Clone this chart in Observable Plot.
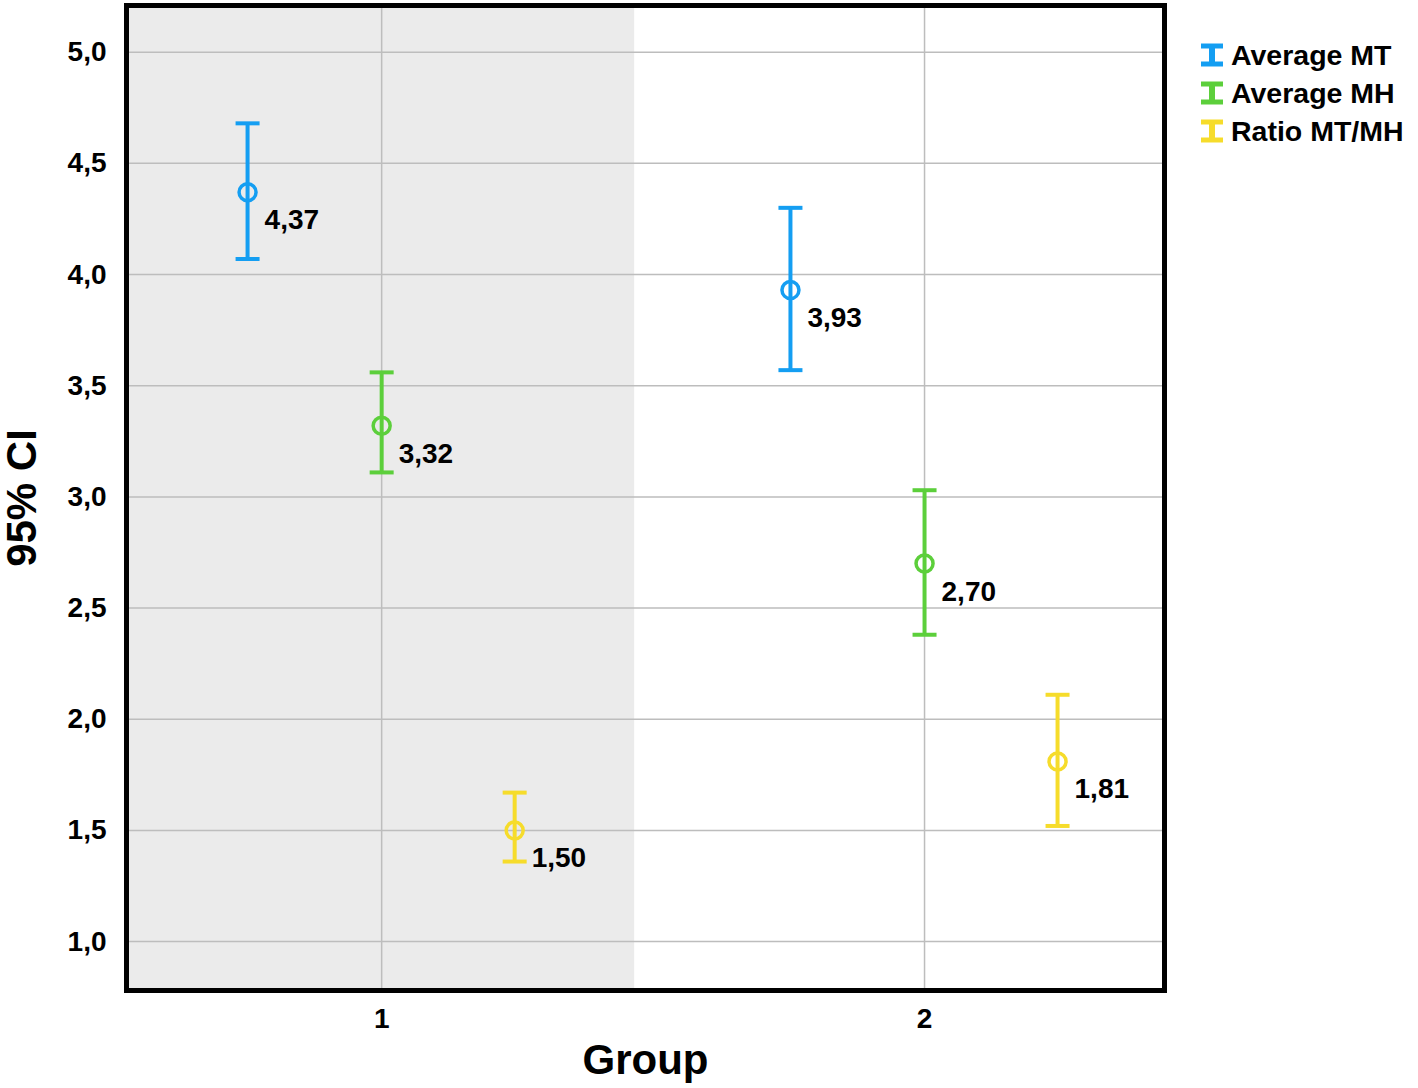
<!DOCTYPE html>
<html>
<head>
<meta charset="utf-8">
<script src="https://cdn.jsdelivr.net/npm/d3@7"></script>
<script src="https://cdn.jsdelivr.net/npm/@observablehq/plot@0.6"></script>
<style>
  html, body { margin: 0; padding: 0; background: #fff; }
  #wrap { position: relative; width: 1418px; height: 1088px; font-family: "Liberation Sans", Arial, Helvetica, sans-serif; font-weight: bold; }
  #legend { position: absolute; left: 1199px; top: 36px; }
  .item { display: flex; align-items: center; height: 38px; font-size: 28.5px; color: #000; white-space: nowrap; }
  .item svg { margin-right: 6px; }
</style>
</head>
<body>
<div id="wrap"><div id="legend"></div></div>
<script>
// ---- data ----
const groups = [1, 2];
const series = ["Average MT", "Average MH", "Ratio MT/MH"];
const meansG1 = [4.37, 3.32, 1.50];
const meansG2 = [3.93, 2.70, 1.81];
const lowerG1 = [4.07, 3.11, 1.36];
const lowerG2 = [3.57, 2.38, 1.52];
const upperG1 = [4.68, 3.56, 1.67];
const upperG2 = [4.30, 3.03, 2.11];
const yTicks = [1.0, 1.5, 2.0, 2.5, 3.0, 3.5, 4.0, 4.5, 5.0];
const colors = ["#149ef2", "#5ccf3b", "#f6dc2b"];

// ---- layout (not data) ----
const seriesOffset = [-0.247, 0, 0.245];
const xDomain = [0.530, 2.442];
const yDomain = [0.78, 5.21];
const shadeEnd = 1.466;

const means = [meansG1, meansG2], lows = [lowerG1, lowerG2], highs = [upperG1, upperG2];
const rows = [];
groups.forEach((g, gi) => series.forEach((s, si) => rows.push({
  group: g, series: s, x: g + seriesOffset[si],
  mean: means[gi][si], lo: lows[gi][si], hi: highs[gi][si]
})));

const fmt = (v, d) => v.toFixed(d).replace(".", ",");
const capSymbol = { draw(ctx) { ctx.moveTo(-12, 0); ctx.lineTo(12, 0); } };

const plot = Plot.plot({
  width: 1418,
  height: 1088,
  marginLeft: 126,
  marginRight: 254,
  marginTop: 5,
  marginBottom: 98,
  style: { fontFamily: '"Liberation Sans", Arial, Helvetica, sans-serif', fontWeight: "bold", color: "#000", background: "transparent", overflow: "visible" },
  x: { domain: xDomain },
  y: { domain: yDomain },
  color: { domain: series, range: colors },
  marks: [
    Plot.rect([0], { x1: xDomain[0], x2: shadeEnd, y1: yDomain[0], y2: yDomain[1], fill: "#ebebeb" }),
    Plot.ruleY(yTicks, { stroke: "#bdbdbd", strokeWidth: 1.5 }),
    Plot.ruleX(groups, { stroke: "#bdbdbd", strokeWidth: 1.5 }),
    Plot.ruleX(rows, { x: "x", y1: "lo", y2: "hi", stroke: "series", strokeWidth: 4 }),
    Plot.dot(rows, { x: "x", y: "lo", symbol: capSymbol, stroke: "series", strokeWidth: 4 }),
    Plot.dot(rows, { x: "x", y: "hi", symbol: capSymbol, stroke: "series", strokeWidth: 4 }),
    Plot.dot(rows, { x: "x", y: "mean", r: 8.5, stroke: "series", strokeWidth: 3.5, fill: "none" }),
    Plot.text(rows, { x: "x", y: "mean", text: d => fmt(d.mean, 2), textAnchor: "start", dx: 17, dy: 28, fontSize: 28, fontWeight: "bold", fill: "#000" }),
    Plot.axisY({ ticks: yTicks, tickFormat: d => fmt(d, 1), tickSize: 0, tickPadding: 20, fontSize: 28, fontWeight: "bold", label: null }),
    Plot.axisX({ ticks: groups, tickFormat: d => String(d), tickSize: 0, tickPadding: 18, fontSize: 28, fontWeight: "bold", label: null }),
    Plot.text(["95% CI"], { text: d => d, frameAnchor: "left", textAnchor: "middle", dx: -104, rotate: -90, fontSize: 42, fontWeight: "bold", fill: "#000" }),
    Plot.text(["Group"], { text: d => d, frameAnchor: "bottom", dy: 83, fontSize: 42, fontWeight: "bold", fill: "#000" }),
    Plot.frame({ stroke: "#000", strokeWidth: 5 })
  ]
});
document.getElementById("wrap").prepend(plot);

// legend
const legend = d3.select("#legend");
series.forEach((s, i) => {
  const item = legend.append("div").attr("class", "item");
  const svg = item.append("svg").attr("width", 26).attr("height", 24);
  svg.append("line").attr("x1", 2).attr("x2", 24).attr("y1", 3).attr("y2", 3).attr("stroke", colors[i]).attr("stroke-width", 5);
  svg.append("line").attr("x1", 2).attr("x2", 24).attr("y1", 21).attr("y2", 21).attr("stroke", colors[i]).attr("stroke-width", 5);
  svg.append("line").attr("x1", 13).attr("x2", 13).attr("y1", 3).attr("y2", 21).attr("stroke", colors[i]).attr("stroke-width", 6);
  item.append("span").text(s);
});
</script>
</body>
</html>
